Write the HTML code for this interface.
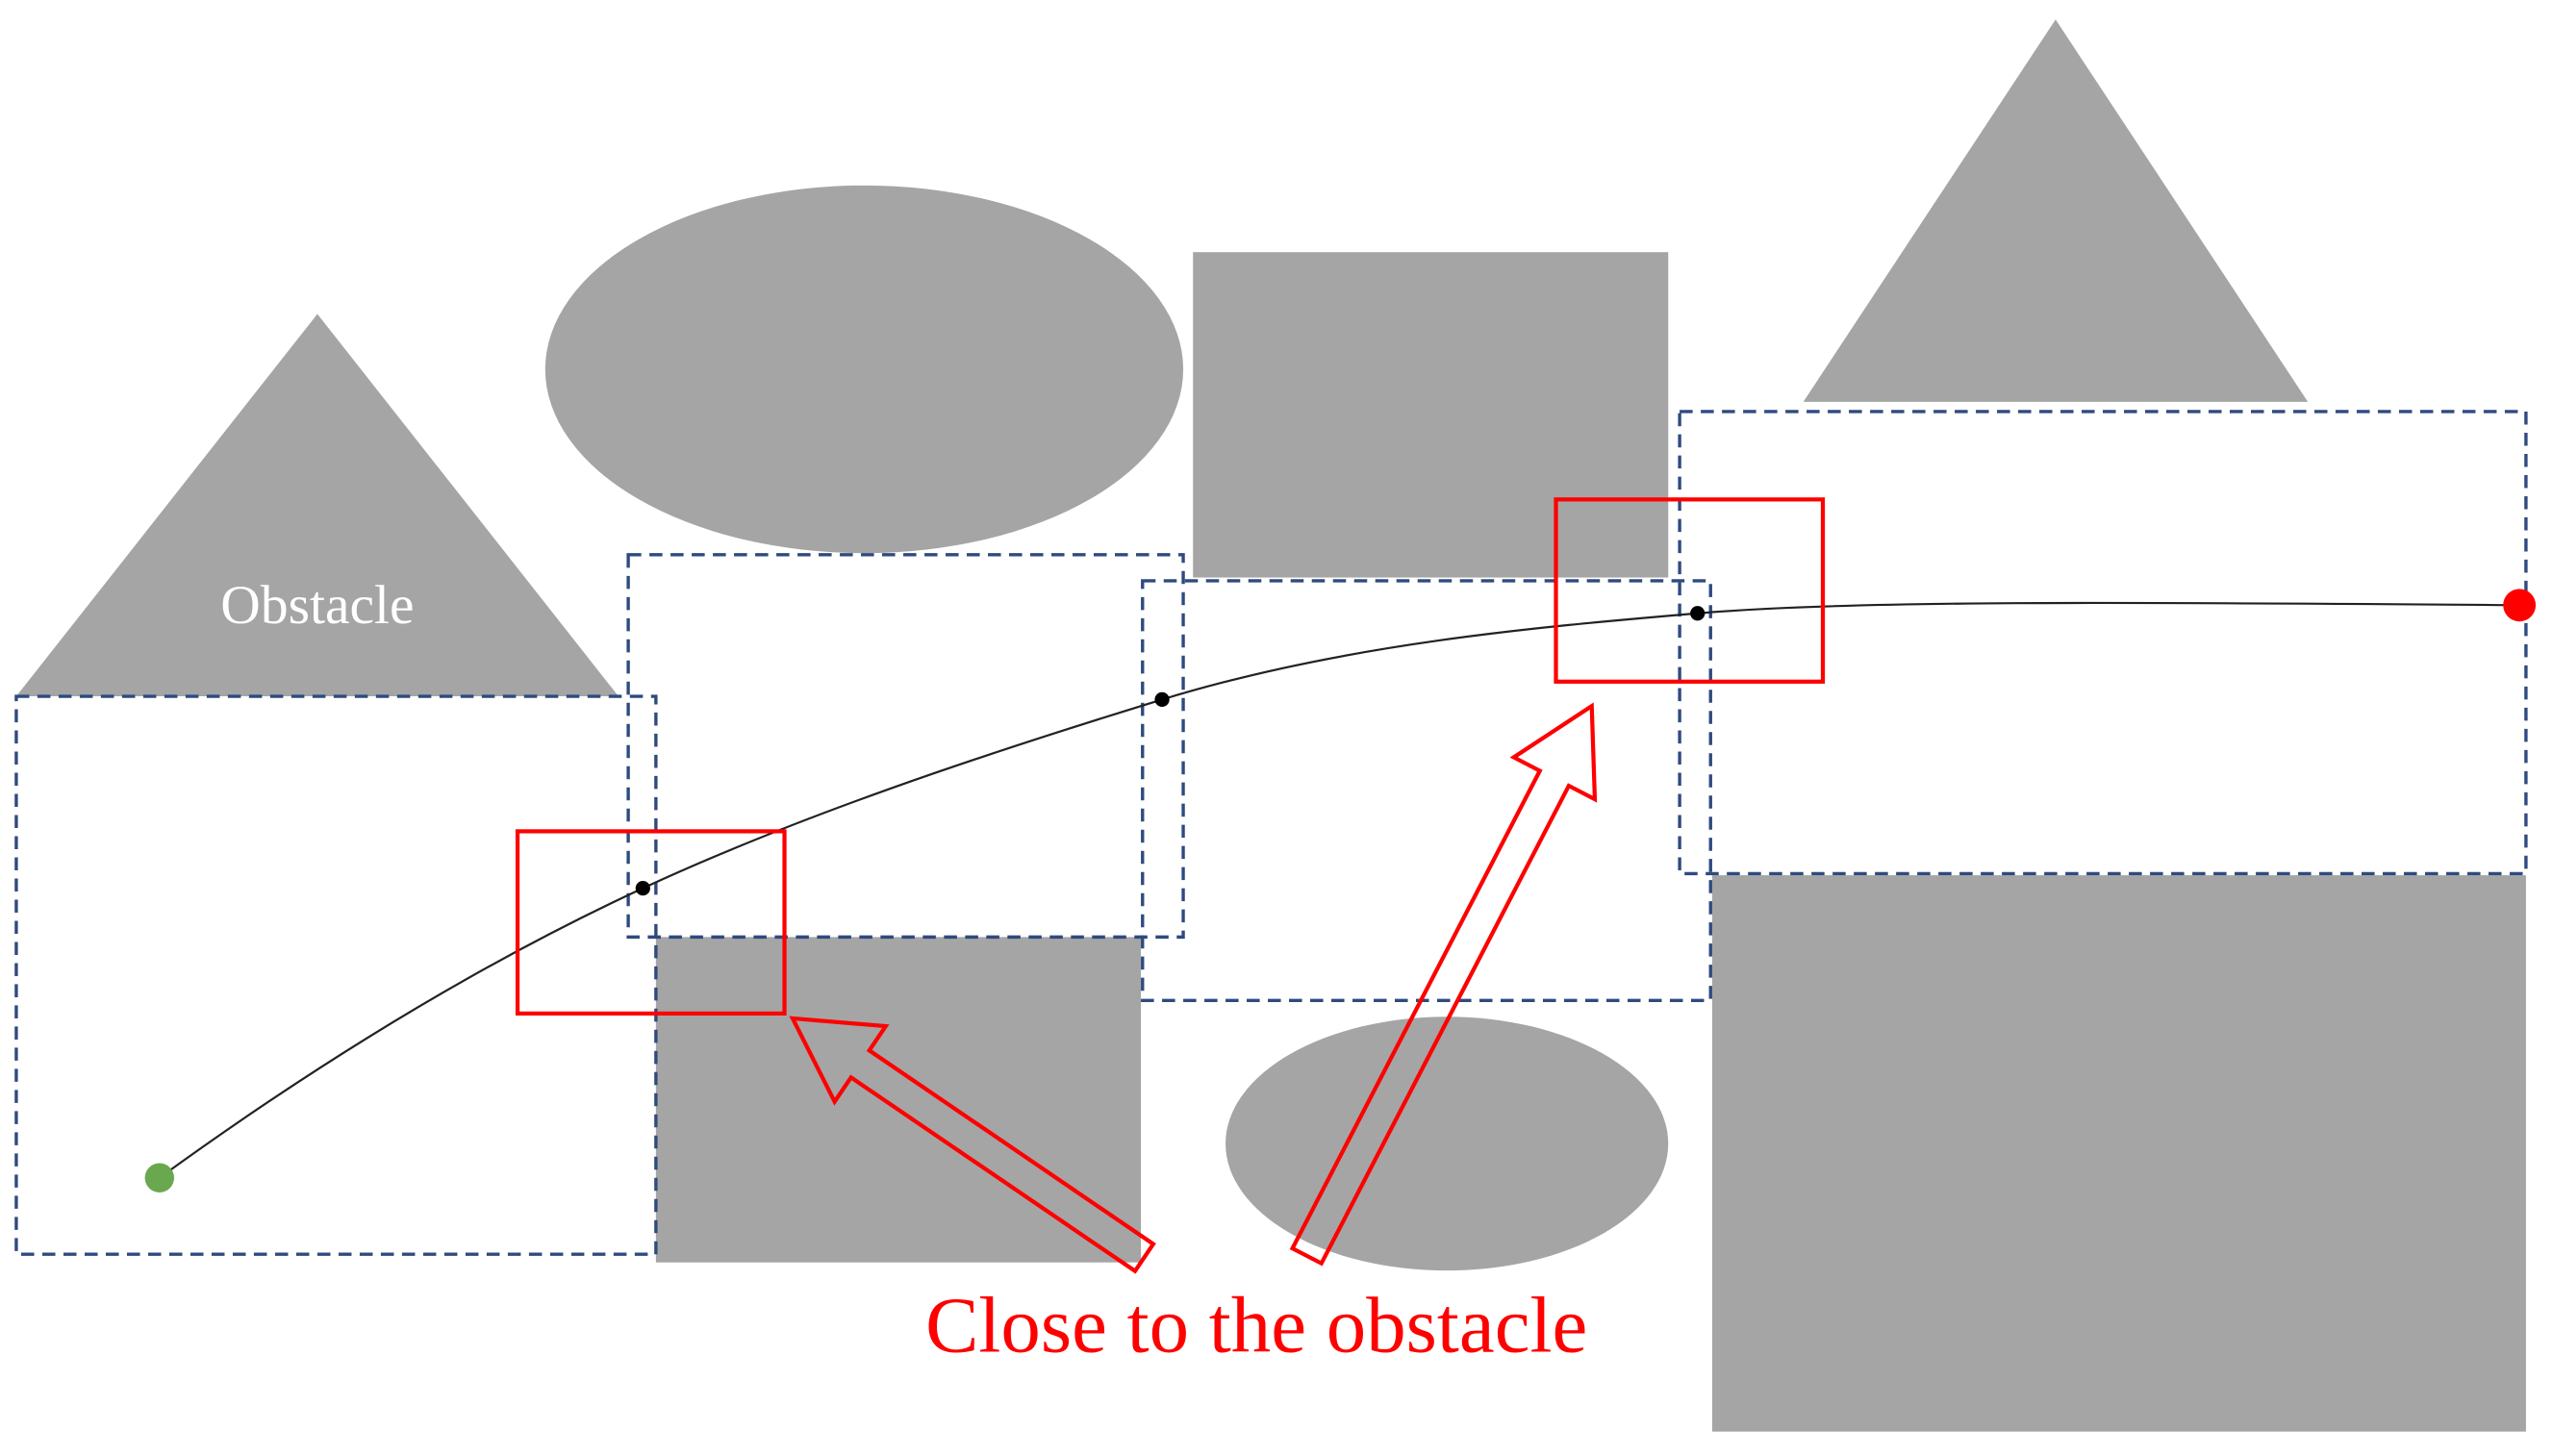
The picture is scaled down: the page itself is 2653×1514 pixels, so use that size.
<!DOCTYPE html>
<html><head><meta charset="utf-8"><style>
html,body{margin:0;padding:0;background:#fff;}
svg{display:block;width:2653px;height:1514px;}
</style></head><body>
<svg viewBox="0 0 1568 895" preserveAspectRatio="none" xmlns="http://www.w3.org/2000/svg">
<rect width="1568" height="895" fill="#fff"/>
<g fill="#a5a5a5">
<polygon points="195,193 380,428 10,428"/>
<ellipse cx="531" cy="227" rx="196" ry="113"/>
<rect x="733" y="155" width="292" height="200"/>
<polygon points="1263,12 1418,247 1108,247"/>
<rect x="403" y="576" width="298" height="200"/>
<ellipse cx="889" cy="703" rx="136" ry="78"/>
<rect x="1052" y="538" width="500" height="342"/>
</g>
<text x="195" y="383" text-anchor="middle" font-family="Liberation Serif, serif" font-size="34" fill="#fff">Obstacle</text>
<g fill="none" stroke="#2f4a7f" stroke-width="2" stroke-dasharray="8,5">
<rect x="10" y="428" width="393" height="343"/>
<rect x="386" y="341" width="341" height="235"/>
<rect x="702" y="357" width="349" height="258"/>
<rect x="1032" y="253" width="520" height="284"/>
</g>
<path d="M98,724 C200,650 300,590 395,546 S600,465 714,430 S950,385 1043,377 S1300,370 1548,372" fill="none" stroke="#222" stroke-width="1.3"/>
<g fill="none" stroke="#f00" stroke-width="2.5">
<rect x="318" y="511" width="164" height="112"/>
<rect x="956" y="307" width="164" height="112"/>
<polygon points="487,626 544.2,630.8 534.1,645.7 708.6,764.7 697.4,781.3 522.9,662.3 512.8,677.2"/>
<polygon points="978,434 979.9,491.3 963.9,483 811.9,776.6 794.1,767.4 946.1,473.8 930.1,465.5"/>
</g>
<g fill="#000">
<circle cx="395" cy="546" r="4.5"/>
<circle cx="714" cy="430" r="4.5"/>
<circle cx="1043" cy="377" r="4.5"/>
</g>
<circle cx="98" cy="724" r="9" fill="#6aa84f"/>
<circle cx="1548" cy="372" r="10" fill="#f00"/>
<text x="772" y="831" text-anchor="middle" font-family="Liberation Serif, serif" font-size="49" fill="#f00">Close to the obstacle</text>
</svg>
</body></html>
